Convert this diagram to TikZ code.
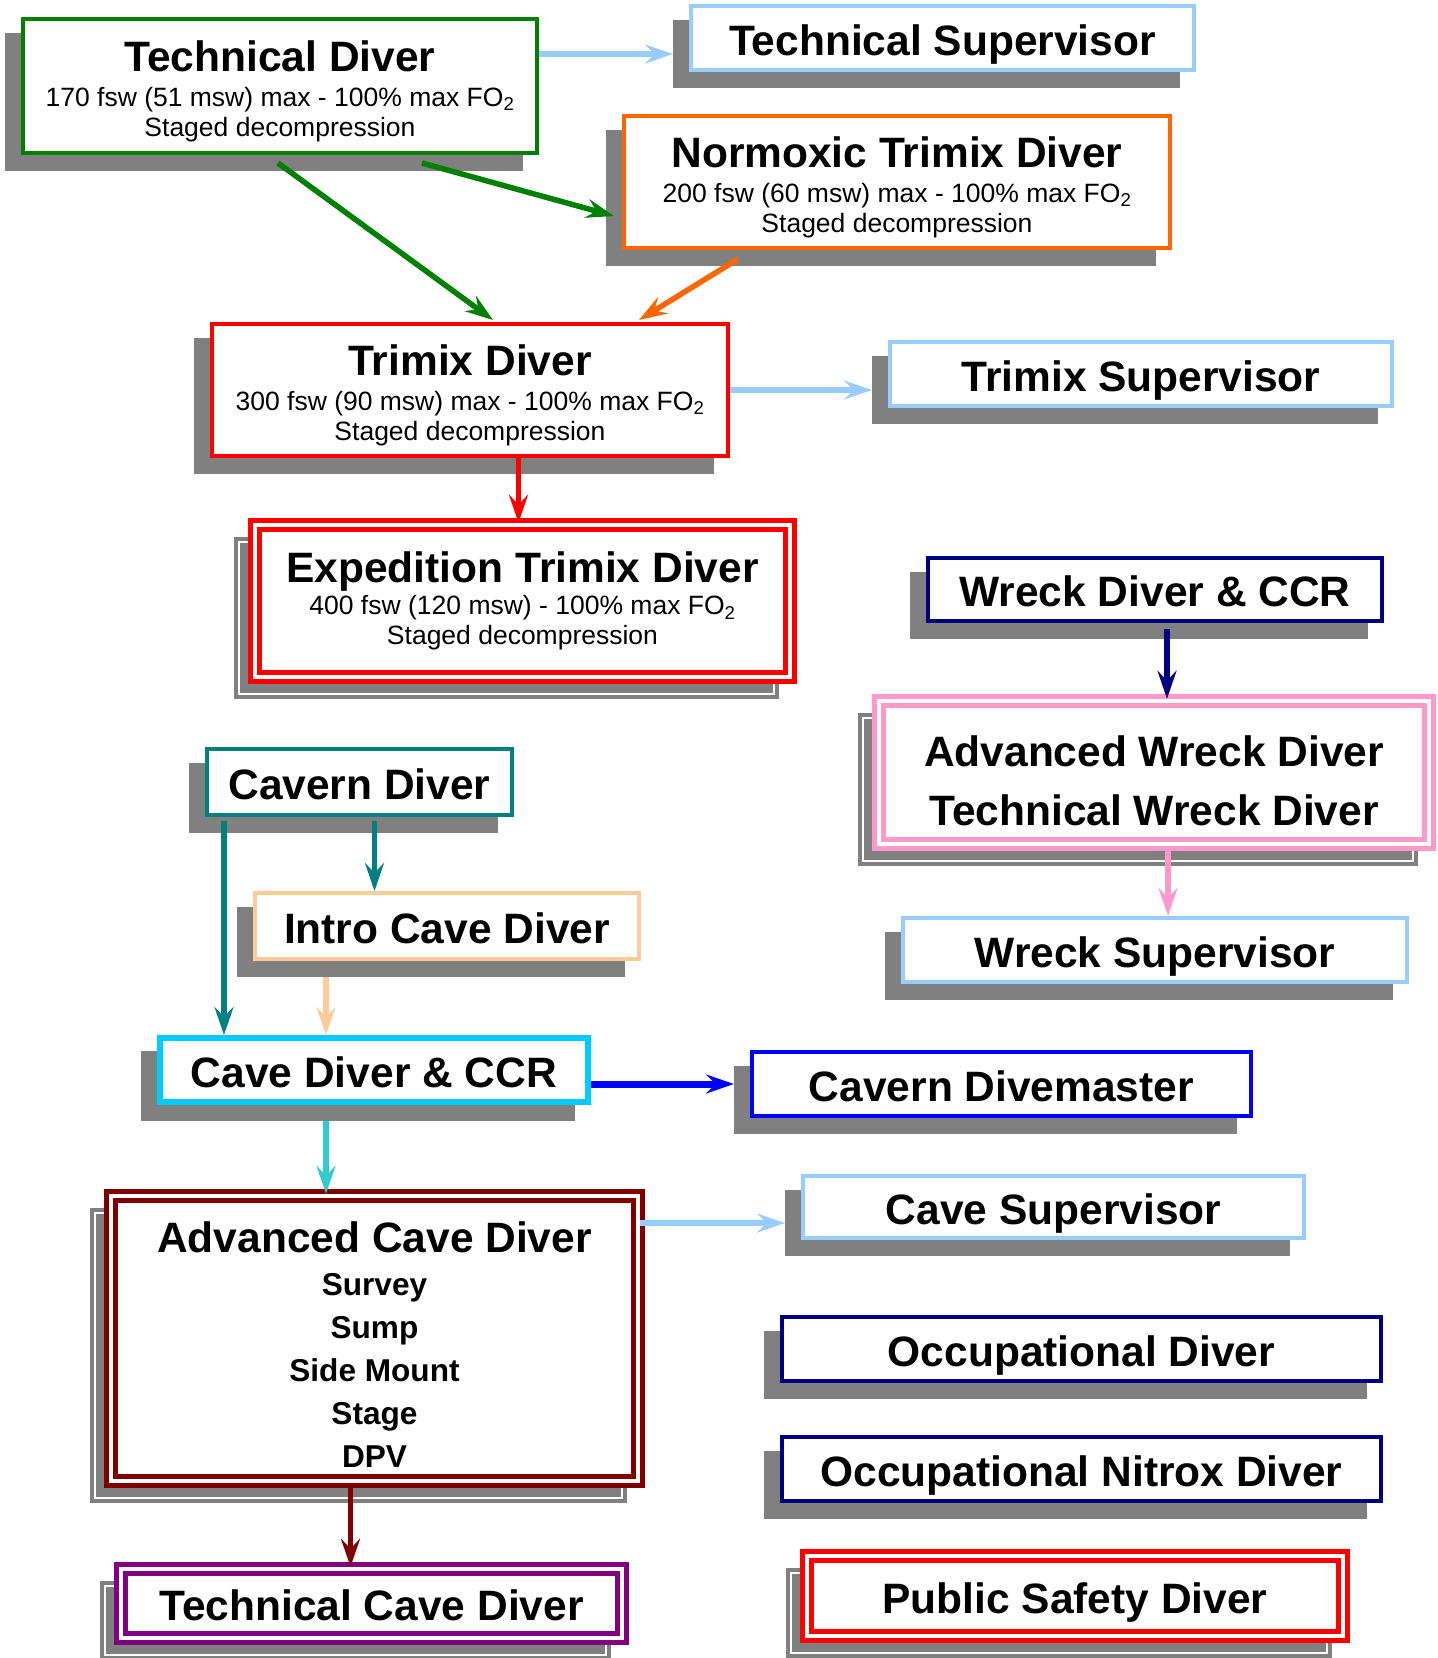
\documentclass[tikz,border=0pt]{standalone}
\usepackage{fontspec}
\setmainfont{Liberation Sans}
\usetikzlibrary{arrows.meta,shadows}

\definecolor{tdgreen}{RGB}{0,128,0}
\definecolor{supblue}{RGB}{153,204,255}
\definecolor{ntorange}{RGB}{255,102,0}
\definecolor{txred}{RGB}{255,0,0}
\definecolor{wrecknavy}{RGB}{0,0,128}
\definecolor{wreckpink}{RGB}{255,153,204}
\definecolor{caventeal}{RGB}{0,128,128}
\definecolor{intropeach}{RGB}{255,204,153}
\definecolor{cavecyan}{RGB}{0,204,255}
\definecolor{dmblue}{RGB}{0,0,255}
\definecolor{acdred}{RGB}{128,0,0}
\definecolor{tcdpurple}{RGB}{128,0,128}
\definecolor{arrowcyan}{RGB}{51,204,204}
\definecolor{shadowgray}{RGB}{128,128,128}

\newcommand{\cardhead}{\fontsize{42.5}{44}\selectfont\bfseries}
\newcommand{\cardsub}{\fontsize{26.5}{30}\selectfont}

\tikzset{
	card/.style={draw=#1, fill=white, line width=4pt, align=center,
		drop shadow={shadow xshift=-16pt, shadow yshift=-16pt, opacity=1, fill=shadowgray, draw=shadowgray}},
	twin/.style={draw=#1, fill=white, line width=4.5pt, double=white, double distance=4.5pt, align=center,
		drop shadow={shadow xshift=-16pt, shadow yshift=-17pt, opacity=1, fill=shadowgray, draw=shadowgray, double=white, double distance=1.5pt}},
	oneline/.style={font=\cardhead, text height=34pt, text depth=0pt},
	link/.style={line width=5.5pt, -{Stealth[length=28pt, width=19pt, inset=10pt]}},
}

\begin{document}
\begin{tikzpicture}[x=1pt, y=-1pt]
			%%%%% START %%%%%
			\useasboundingbox (0,0) rectangle (1438,1658);
			
			% technical / trimix column
			\node[card=tdgreen, font=\cardsub, minimum width=514pt, minimum height=134pt] (td) at (280,86)
				{{\cardhead\rule{0pt}{41pt}Technical Diver}\\[5pt]170 fsw (51 msw) max - 100\% max FO\textsubscript{2}\\Staged decompression};
			\node[card=supblue, oneline, minimum width=503pt, minimum height=64pt] (ts) at (942.5,38) {Technical Supervisor};
			\node[card=ntorange, font=\cardsub, minimum width=546pt, minimum height=132pt] (nt) at (897,182)
				{{\cardhead\rule{0pt}{41pt}Normoxic Trimix Diver}\\[5pt]200 fsw (60 msw) max - 100\% max FO\textsubscript{2}\\Staged decompression};
			\node[card=txred, font=\cardsub, minimum width=516pt, minimum height=132pt] (tx) at (470,390)
				{{\cardhead\rule{0pt}{41pt}Trimix Diver}\\[5pt]300 fsw (90 msw) max - 100\% max FO\textsubscript{2}\\Staged decompression};
			\node[card=supblue, oneline, minimum width=502pt, minimum height=64pt] (txs) at (1141,374) {Trimix Supervisor};
			\node[twin=txred, font=\cardsub, minimum width=535pt, minimum height=152pt] (etd) at (522.5,601)
				{{\cardhead Expedition Trimix Diver}\\[2pt]400 fsw (120 msw) - 100\% max FO\textsubscript{2}\\Staged decompression};
			
			% wreck column
			\node[card=wrecknavy, oneline, minimum width=454pt, minimum height=63pt] (wd) at (1155,589.5) {Wreck Diver \& CCR};
			\node[twin=wreckpink, font=\fontsize{42.5}{59}\selectfont\bfseries, minimum width=550pt, minimum height=143pt] (awd) at (1154,772.5)
				{\rule{0pt}{48pt}Advanced Wreck Diver\\Technical Wreck Diver};
			\node[card=supblue, oneline, minimum width=504pt, minimum height=64pt] (ws) at (1155,950) {Wreck Supervisor};
			
			% cave column
			\node[card=caventeal, oneline, minimum width=305pt, minimum height=66pt] (cd) at (359.5,782) {Cavern Diver};
			\node[card=intropeach, oneline, minimum width=384pt, minimum height=66pt] (icd) at (447,926) {Intro Cave Diver};
			\node[card=cavecyan, oneline, line width=6pt, minimum width=428pt, minimum height=64pt] (cdc) at (374,1070) {Cave Diver \& CCR};
			\node[card=dmblue, oneline, minimum width=499pt, minimum height=64pt] (cdm) at (1001.5,1084) {Cavern Divemaster};
			\node[twin=acdred, font=\fontsize{31.6}{43}\selectfont\bfseries, minimum width=527pt, minimum height=285pt] (acd) at (374.5,1338.5)
				{{\fontsize{42.5}{43}\selectfont\rule{0pt}{42pt}Advanced Cave Diver}\\Survey\\Sump\\Side Mount\\Stage\\DPV};
			\node[card=supblue, oneline, minimum width=501pt, minimum height=62pt] (cs) at (1053.5,1207) {Cave Supervisor};
			\node[twin=tcdpurple, oneline, minimum width=501pt, minimum height=69pt] (tcd) at (371.5,1603.5) {Technical Cave Diver};
			
			% occupational
			\node[card=wrecknavy, oneline, minimum width=599pt, minimum height=64pt] (od) at (1081.5,1349) {Occupational Diver};
			\node[card=wrecknavy, oneline, minimum width=599pt, minimum height=64pt] (ond) at (1081.5,1469) {Occupational Nitrox Diver};
			\node[twin=txred, oneline, minimum width=536pt, minimum height=80pt] (psd) at (1075,1596) {Public Safety Diver};
			
			% links
			\coordinate (tsin) at ([shift={(-16,16)}]ts.west);
			\coordinate (txsin) at ([shift={(-16,16)}]txs.west);
			\coordinate (cdmin) at ([xshift=-16pt]cdm.west);
			\coordinate (csin) at ([shift={(-16,16)}]cs.west);
			
			\draw[link, supblue] (td.east |- tsin) -- (tsin);
			\draw[link, tdgreen] ([shift={(142,8)}]td.south) -- ([shift={(-8,34)}]nt.west);
			\draw[link, tdgreen] ([shift={(-2,8)}]td.south) -- ([shift={(23,-2)}]tx.north);
			\draw[link, ntorange] ([shift={(-159,9)}]nt.south) -- ([shift={(169,-2)}]tx.north);
			\draw[link, supblue] (tx.east |- txsin) -- (txsin);
			\draw[link, txred] ([xshift=-4pt]etd.north |- tx.south) coordinate (txout) -- (txout |- etd.north);
			
			\draw[link, wrecknavy] ([shift={(12,6)}]wd.south) coordinate (wdout) -- (wdout |- awd.north);
			\draw[link, wreckpink] ([shift={(14,4)}]awd.south) coordinate (awdout) -- (awdout |- ws.north);
			
			\draw[link, caventeal] ([shift={(19,4)}]cd.south west) coordinate (cdleft) -- (cdleft |- cdc.north);
			\draw[link, caventeal] ([shift={(15,4)}]cd.south) coordinate (cdright) -- (cdright |- icd.north);
			\draw[link, intropeach] ([shift={(-121,16)}]icd.south) coordinate (icdout) -- (icdout |- cdc.north);
			\draw[link, dmblue, line width=7pt] (cdc.east |- cdmin) -- (cdmin);
			\draw[link, arrowcyan] ([shift={(-48,16)}]cdc.south) coordinate (cdcout) -- (cdcout |- acd.north);
			\draw[link, supblue] (acd.east |- csin) -- (csin);
			\draw[link, acdred] ([shift={(-24,4)}]acd.south) coordinate (acdout) -- (acdout |- tcd.north);
			
			%%%%% END %%%%%
\end{tikzpicture}
\end{document}
